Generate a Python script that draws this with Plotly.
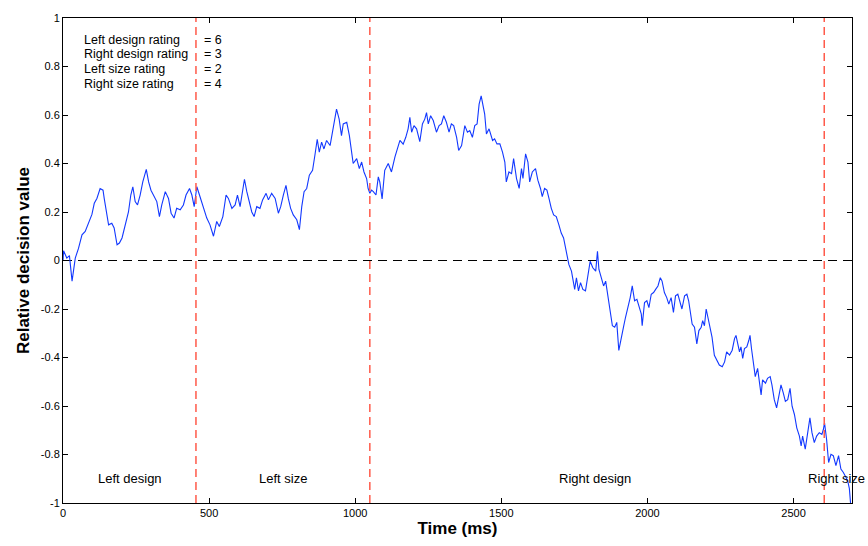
import plotly.graph_objects as go

# ---- data ----
time_ms = [0, 2, 13, 22, 31, 42, 53, 65, 76, 88, 99, 107, 116, 127, 137, 141, 150, 156, 167, 175,
           185, 193, 202, 213, 224, 232, 239, 247, 255, 264, 273, 285, 293, 301, 310, 321, 330, 338,
           350, 361, 370, 380, 389, 401, 412, 421, 433, 441, 449, 458, 467,
           481, 492, 503, 515, 526, 535, 547, 558, 566, 578, 589, 597, 606, 615, 621, 629, 638, 646,
           654, 663, 674, 683, 695, 703, 714, 726, 737, 745, 754, 763, 771, 779, 788, 800, 809, 817,
           825, 834, 843, 854, 862, 870, 877, 885, 893, 902, 914, 923, 931, 936, 945, 953, 959, 971,
           980, 988, 993,
           1005, 1014, 1022, 1030, 1039, 1044, 1050, 1056, 1062, 1071, 1079, 1084, 1092, 1101, 1113,
           1124, 1136, 1143, 1153, 1164, 1173, 1181, 1187, 1193, 1201, 1210, 1221, 1230, 1238, 1244,
           1250, 1258, 1267, 1278, 1287, 1295, 1303, 1312, 1321, 1329, 1337, 1347, 1354, 1364, 1375,
           1384, 1392, 1401, 1409, 1417, 1424, 1431, 1437, 1443, 1449, 1458,
           1470, 1477, 1485, 1495, 1504, 1512, 1517, 1526, 1535, 1542, 1552, 1561, 1569, 1574, 1583,
           1591, 1597, 1606, 1617, 1625, 1634, 1640, 1648, 1656, 1663, 1671, 1679, 1688, 1697, 1705,
           1713, 1720, 1725, 1731, 1740, 1745, 1751, 1757, 1764, 1771, 1779, 1788, 1796, 1804, 1813,
           1823, 1829, 1834, 1842, 1850, 1857, 1865, 1873, 1880, 1888, 1895, 1902,
           1910, 1918, 1925, 1933, 1941, 1948, 1956, 1964, 1971, 1979, 1982, 1990, 1998, 2005, 2013,
           2021, 2028, 2036, 2044, 2050, 2058, 2066, 2073, 2081, 2089, 2096, 2104, 2112, 2118, 2127,
           2135, 2141, 2146, 2153, 2161, 2169, 2176, 2184, 2189, 2195, 2201, 2206, 2212, 2221, 2229,
           2237,
           2246, 2256, 2264, 2271, 2281, 2290, 2298, 2303, 2309, 2315, 2320, 2326, 2332, 2340, 2347,
           2351, 2356, 2363, 2369, 2377, 2383, 2389, 2394, 2404, 2411, 2420, 2426, 2434, 2442, 2449,
           2457, 2465, 2472, 2480, 2488, 2495, 2503, 2511, 2520, 2526, 2531, 2540, 2548, 2556, 2563,
           2571, 2579, 2588, 2597, 2602, 2606, 2613, 2620, 2628, 2636, 2645, 2654, 2662, 2670, 2677,
           2685, 2691, 2695]

decision_value = [0.0, 0.04, 0.01, 0.02, -0.085, 0.01, 0.05, 0.106, 0.12, 0.154, 0.19, 0.236, 0.256,
                  0.297, 0.29, 0.256, 0.20, 0.147, 0.154, 0.134, 0.065, 0.072, 0.093, 0.147, 0.20,
                  0.27, 0.304, 0.243, 0.229, 0.27, 0.324, 0.376, 0.324, 0.29, 0.27, 0.243, 0.181,
                  0.229, 0.284, 0.256, 0.195, 0.175, 0.215, 0.209, 0.229, 0.27, 0.297, 0.27, 0.222,
                  0.304, 0.27,
                  0.215, 0.175, 0.147, 0.10, 0.161, 0.14, 0.181, 0.27, 0.256, 0.215, 0.229, 0.27,
                  0.222, 0.297, 0.335, 0.284, 0.243, 0.20, 0.181, 0.222, 0.215, 0.25, 0.277, 0.25,
                  0.277, 0.256, 0.195, 0.222, 0.27, 0.31, 0.256, 0.215, 0.188, 0.168, 0.127, 0.222,
                  0.284, 0.297, 0.352, 0.372, 0.434, 0.50, 0.447, 0.488, 0.46, 0.495, 0.474, 0.543,
                  0.59, 0.624, 0.583, 0.515, 0.563, 0.57, 0.515, 0.434, 0.40,
                  0.42, 0.379, 0.406, 0.365, 0.338, 0.297, 0.277, 0.29, 0.284, 0.27, 0.345, 0.324,
                  0.254, 0.372, 0.40, 0.365, 0.427, 0.454, 0.495, 0.48, 0.508, 0.543, 0.59, 0.529,
                  0.556, 0.543, 0.49, 0.563, 0.583, 0.61, 0.563, 0.597, 0.577, 0.529, 0.556, 0.563,
                  0.597, 0.57, 0.529, 0.563, 0.556, 0.508, 0.454, 0.474, 0.556, 0.529, 0.536, 0.508,
                  0.556, 0.563, 0.645, 0.679, 0.638, 0.604, 0.522, 0.543,
                  0.495, 0.502, 0.481, 0.481, 0.447, 0.406, 0.324, 0.365, 0.358, 0.42, 0.338, 0.297,
                  0.379, 0.338, 0.44, 0.406, 0.324, 0.365, 0.379, 0.331, 0.297, 0.263, 0.297, 0.29,
                  0.256, 0.215, 0.188, 0.181, 0.147, 0.113, 0.093, 0.052, 0.011, -0.016, -0.044,
                  -0.085, -0.119, -0.071, -0.125, -0.091, -0.119, -0.125, -0.057, -0.003, -0.03,
                  -0.044, 0.038, -0.037, -0.071, -0.105, -0.085, -0.153, -0.207, -0.269, -0.275,
                  -0.255, -0.371,
                  -0.316, -0.275, -0.234, -0.194, -0.153, -0.105, -0.166, -0.16, -0.194, -0.221,
                  -0.269, -0.173, -0.166, -0.194, -0.139, -0.132, -0.119, -0.105, -0.071, -0.085,
                  -0.132, -0.153, -0.18, -0.153, -0.214, -0.146, -0.139, -0.173, -0.20, -0.146,
                  -0.139, -0.166, -0.214, -0.262, -0.275, -0.344, -0.289, -0.275, -0.248, -0.269,
                  -0.20, -0.228, -0.275, -0.316, -0.391, -0.412,
                  -0.431, -0.438, -0.418, -0.377, -0.39, -0.37, -0.322, -0.309, -0.343, -0.377,
                  -0.356, -0.404, -0.363, -0.356, -0.329, -0.309, -0.363, -0.418, -0.479, -0.445,
                  -0.499, -0.554, -0.492, -0.506, -0.486, -0.479, -0.513, -0.574, -0.608, -0.567,
                  -0.513, -0.547, -0.581, -0.574, -0.527, -0.601, -0.635, -0.69, -0.724, -0.765,
                  -0.724, -0.778, -0.717, -0.649, -0.71, -0.751, -0.724, -0.71, -0.717, -0.697,
                  -0.669, -0.737, -0.833, -0.799, -0.805, -0.846, -0.805, -0.86, -0.873, -0.887,
                  -0.907, -0.941, -1.0]

boundaries_ms = [455, 1050, 2605]
phase_labels = ["Left design", "Left size", "Right design", "Right size"]
phase_label_x = [230, 753, 1822, 2647]
rating_names = ["Left design rating", "Right design rating", "Left size rating", "Right size rating"]
rating_values = [6, 3, 2, 4]

x_ticks = [0, 500, 1000, 1500, 2000, 2500]
y_ticks = [-1, -0.8, -0.6, -0.4, -0.2, 0, 0.2, 0.4, 0.6, 0.8, 1]
y_tick_text = ["-1", "-0.8", "-0.6", "-0.4", "-0.2", "0", "0.2", "0.4", "0.6", "0.8", "1"]

FONT = "Liberation Sans, Arial, sans-serif"

fig = go.Figure()

fig.add_trace(go.Scatter(x=time_ms, y=decision_value, mode="lines",
                         line=dict(color="#1238ff", width=1.1), showlegend=False,
                         hoverinfo="skip"))

shapes = [dict(type="line", xref="x", yref="y", x0=0, x1=2700, y0=0, y1=0,
               line=dict(color="black", width=1, dash="9px,6px"), layer="below")]
for b in boundaries_ms:
    shapes.append(dict(type="line", xref="x", yref="y", x0=b, x1=b, y0=-1, y1=1,
                       line=dict(color="#ff5a4a", width=1.5, dash="8px,5px"), layer="above"))

annotations = []
rating_y = [0.909, 0.852, 0.791, 0.729]
for name, val, yy in zip(rating_names, rating_values, rating_y):
    annotations.append(dict(x=66, y=yy, xref="x", yref="y", text=name, showarrow=False,
                            xanchor="left", yanchor="middle",
                            font=dict(family=FONT, size=12.5, color="black")))
    annotations.append(dict(x=476, y=yy, xref="x", yref="y", text="= %d" % val, showarrow=False,
                            xanchor="left", yanchor="middle",
                            font=dict(family=FONT, size=12.5, color="black")))
for lab, xx in zip(phase_labels, phase_label_x):
    annotations.append(dict(x=xx, y=-0.90, xref="x", yref="y", text=lab, showarrow=False,
                            xanchor="center", yanchor="middle",
                            font=dict(family=FONT, size=13, color="black")))

fig.update_layout(
    width=868, height=546,
    margin=dict(l=63, r=16, t=14, b=43),
    paper_bgcolor="white", plot_bgcolor="white",
    shapes=shapes, annotations=annotations,
    font=dict(family=FONT, size=11, color="black"),
    xaxis=dict(range=[0, 2700], tickvals=x_ticks, ticks="inside", ticklen=5,
               tickcolor="black", showline=True, linecolor="black", linewidth=1, mirror="ticks",
               showgrid=False, zeroline=False,
               tickfont=dict(family=FONT, size=11, color="black"),
               title=dict(text="<b>Time (ms)</b>", standoff=3,
                          font=dict(family=FONT, size=17, color="black"))),
    yaxis=dict(range=[-1, 1], tickvals=y_ticks, ticktext=y_tick_text, ticks="inside", ticklen=5,
               tickcolor="black", showline=True, linecolor="black", linewidth=1, mirror="ticks",
               showgrid=False, zeroline=False,
               tickfont=dict(family=FONT, size=11, color="black"),
               title=dict(text="<b>Relative decision value</b>", standoff=6,
                          font=dict(family=FONT, size=17, color="black"))),
)

fig.write_html("out.html")
